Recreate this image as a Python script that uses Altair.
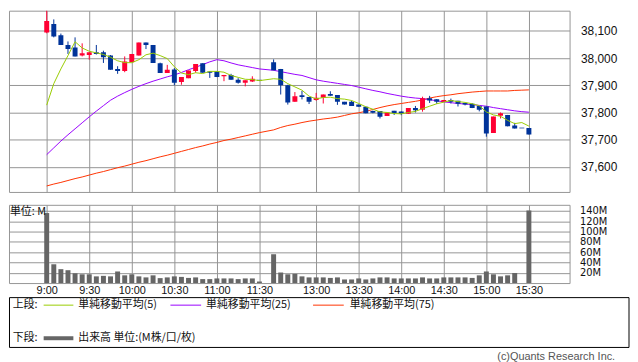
import altair as alt
import pandas as pd

# ---- data (slot index = 5-minute bar; slot 31 is the lunch gap) ----
opens = [38094, 38125, 38084, 38048, 38039, 38009, 38011, 38021, 38021, 38009,
         37960, 37952, 37985, 38009, 38057, 38048, 37981, 37945, 37958, 37912,
         37926, 37952, 37981, 37951, 37951, 37933, 37938, 37920, 37909, 37914,
         37918, None, 37985, 37960, 37900, 37839, 37863, 37857, 37846, 37854,
         37868, 37864, 37839, 37839, 37829, 37821, 37805, 37805, 37787, 37806,
         37804, 37795, 37816, 37810, 37852, 37849, 37839, 37846, 37843, 37835,
         37832, 37824, 37822, 37725, 37788, 37791, 37752, 37743, 37743]
highs = [38181, 38142, 38090, 38061, 38076, 38054, 38021, 38048, 38027, 38011,
         37970, 38006, 38015, 38057, 38057, 38048, 37983, 37975, 37963, 37930,
         37954, 37978, 37981, 37951, 37951, 37938, 37942, 37926, 37918, 37933,
         37918, None, 37995, 37960, 37902, 37875, 37879, 37857, 37872, 37866,
         37878, 37864, 37839, 37844, 37829, 37821, 37807, 37805, 37800, 37806,
         37804, 37816, 37824, 37858, 37861, 37849, 37846, 37851, 37843, 37835,
         37834, 37824, 37822, 37785, 37800, 37791, 37762, 37743, 37743]
lows = [38091, 38076, 38048, 38015, 38006, 38006, 37994, 38013, 37982, 37957,
        37942, 37948, 37985, 38009, 38033, 37982, 37945, 37945, 37900, 37902,
        37926, 37946, 37946, 37927, 37930, 37915, 37920, 37906, 37896, 37912,
        37918, None, 37955, 37866, 37829, 37839, 37848, 37831, 37843, 37833,
        37861, 37828, 37829, 37824, 37821, 37797, 37797, 37778, 37787, 37791,
        37790, 37795, 37800, 37803, 37835, 37832, 37839, 37833, 37822, 37826,
        37816, 37804, 37711, 37725, 37778, 37749, 37741, 37743, 37719]
closes = [38136, 38079, 38048, 38033, 38006, 38018, 38021, 38015, 38003, 37957,
          37952, 37987, 38015, 38057, 38048, 37982, 37945, 37957, 37909, 37930,
          37954, 37978, 37946, 37946, 37930, 37938, 37920, 37909, 37918, 37924,
          37918, None, 37955, 37900, 37837, 37860, 37857, 37839, 37854, 37866,
          37861, 37839, 37829, 37824, 37821, 37797, 37799, 37784, 37800, 37798,
          37795, 37816, 37808, 37852, 37844, 37839, 37846, 37839, 37832, 37829,
          37816, 37810, 37723, 37785, 37797, 37749, 37741, 37743, 37719]
volumes = [136, 36.5, 27, 25, 19, 17, 17, 13, 14, 13,
           22.5, 15, 17, 13, 11, 15, 9.6, 11, 13, 12,
           10, 11, 7.7, 7.7, 9, 9, 9, 7.7, 9, 9,
           3, None, 56, 20.5, 17, 18, 13, 11, 11, 11,
           10, 11, 7, 7, 9, 7, 9, 11, 11, 9,
           9, 9, 9, 11, 9, 9, 11, 11, 11, 11,
           10, 15, 22.5, 17, 13, 15, 19.5, 0, 141]
ma5 = [37827, 37906, 37960, 38009, 38060, 38037, 38025, 38019, 38013, 38003,
       37990, 37983, 37983, 37994, 38012, 38018, 38009, 37998, 37968, 37945,
       37939, 37946, 37943, 37951, 37951, 37948, 37936, 37929, 37922, 37921,
       37917, None, 37924, 37922, 37906, 37894, 37882, 37860, 37850, 37855,
       37856, 37851, 37849, 37844, 37833, 37821, 37812, 37802, 37800, 37796,
       37795, 37800, 37804, 37814, 37823, 37832, 37838, 37844, 37840, 37837,
       37832, 37825, 37802, 37791, 37786, 37771, 37759, 37763, 37750]
ma25 = [37645, 37670, 37695, 37718, 37740, 37762, 37784, 37805, 37825, 37845,
        37860, 37873, 37885, 37896, 37906, 37915, 37923, 37931, 37938, 37947,
        37957, 37966, 37976, 37986, 37994, 37990, 37982, 37975, 37970, 37965,
        37960, None, 37955, 37950, 37945, 37940, 37936, 37928, 37920, 37915,
        37911, 37907, 37903, 37899, 37893, 37887, 37881, 37876, 37870, 37865,
        37860, 37856, 37853, 37851, 37847, 37843, 37839, 37836, 37833, 37831,
        37829, 37826, 37823, 37818, 37814, 37810, 37806, 37803, 37801]
ma75 = [37530, 37537, 37543, 37550, 37557, 37563, 37570, 37577, 37583, 37590,
        37597, 37603, 37610, 37617, 37623, 37630, 37637, 37643, 37650, 37657,
        37664, 37671, 37677, 37684, 37690, 37697, 37702, 37708, 37714, 37720,
        37726, None, 37736, 37745, 37752, 37757, 37763, 37768, 37772, 37776,
        37779, 37783, 37789, 37795, 37799, 37804, 37811, 37818, 37824, 37829,
        37833, 37837, 37841, 37846, 37853, 37858, 37862, 37865, 37869, 37872,
        37875, 37877, 37879, 37879, 37879, 37879, 37881, 37882, 37883]

tick_slots = [0, 6, 12, 18, 24, 30, 38, 44, 50, 56, 62, 68]
tick_labels = ["9:00", "9:30", "10:00", "10:30", "11:00", "11:30",
               "13:00", "13:30", "14:00", "14:30", "15:00", "15:30"]
price_ticks = [37600, 37700, 37800, 37900, 38000, 38100]
volume_ticks = [20, 40, 60, 80, 100, 120, 140]

legend_top = ["上段:", "単純移動平均(5)", "単純移動平均(25)", "単純移動平均(75)"]
legend_bottom = ["下段:", "出来高 単位:(M株/口/枚)"]
unit_label = "単位: M"
credit = "(c)Quants Research Inc."

# ---- styles ----
RED = "#ff0033"
BLUE = "#003399"
GRID = "#959595"
C5, C25, C75 = "#99cc00", "#9900ff", "#ff3300"
VOL = "#666666"
FONT = "Liberation Sans"
JFONT = "Noto Sans CJK JP"

rows = []
for i in range(len(opens)):
    if opens[i] is None:
        continue
    d = "up" if closes[i] > opens[i] else ("down" if closes[i] < opens[i] else "flat")
    rows.append(dict(slot=i, open=opens[i], high=highs[i], low=lows[i],
                     close=closes[i], dir=d, vol=volumes[i],
                     ma5=ma5[i], ma25=ma25[i], ma75=ma75[i]))
df = pd.DataFrame(rows)

xscale = alt.Scale(domain=[-4.62, 73.04], nice=False, zero=False)
yscale = alt.Scale(domain=[37508, 38174], nice=False, zero=False)
vscale = alt.Scale(domain=[0, 152], nice=False, zero=False)

x_price_axis = alt.Axis(values=tick_slots, labels=False, ticks=False, domain=False,
                        grid=True, gridColor=GRID, gridOpacity=1, title=None)
y_price_axis = alt.Axis(orient="right", values=price_ticks, format=",d", ticks=False,
                        domain=False, grid=True, gridColor=GRID, gridOpacity=1,
                        labelPadding=11, labelFontSize=12, labelColor="#111",
                        labelFont=FONT, labelOverlap=False, title=None)
label_expr = "[" + ",".join("'%s'" % t for t in tick_labels) + "][indexof([" + \
    ",".join(str(s) for s in tick_slots) + "], datum.value)]"
x_vol_axis = alt.Axis(values=tick_slots, labelExpr=label_expr, ticks=False, domain=False,
                      grid=True, gridColor=GRID, gridOpacity=1, labelPadding=2,
                      labelFontSize=11, labelColor="#111", labelFont=FONT,
                      labelOverlap=False, title=None)
y_vol_axis = alt.Axis(orient="right", values=volume_ticks, labelExpr="datum.value + 'M'",
                      ticks=False, domain=False, grid=True, gridColor=GRID, gridOpacity=1,
                      labelPadding=10, labelFontSize=10, labelColor="#111",
                      labelFont="DejaVu Sans", labelOverlap=False, labelBound=False,
                      title=None)

X = alt.X("slot:Q", scale=xscale, axis=x_price_axis)
cscale = alt.Scale(domain=["up", "down", "flat"], range=[RED, BLUE, BLUE])
base = alt.Chart(df)

wicks = base.mark_rule(strokeWidth=1, clip=True).encode(
    x=X, y=alt.Y("low:Q", scale=yscale, axis=y_price_axis), y2="high:Q",
    color=alt.Color("dir:N", scale=cscale, legend=None))
bodies = base.mark_bar(size=5, clip=True).encode(
    x=X, y=alt.Y("open:Q", scale=yscale, axis=y_price_axis), y2="close:Q",
    color=alt.Color("dir:N", scale=cscale, legend=None))
dojis = base.transform_filter("datum.open == datum.close").mark_tick(
    orient="horizontal", size=5, thickness=1.2, clip=True).encode(
    x=X, y=alt.Y("close:Q", scale=yscale, axis=y_price_axis),
    color=alt.Color("dir:N", scale=cscale, legend=None))

def ma_line(field, col):
    return base.mark_line(strokeWidth=1, clip=True, color=col).encode(
        x=X, y=alt.Y(f"{field}:Q", scale=yscale, axis=y_price_axis))

price = alt.layer(ma_line("ma75", C75), ma_line("ma25", C25), wicks, bodies, dojis,
                  ma_line("ma5", C5)).properties(width=566, height=183)

XV = alt.X("slot:Q", scale=xscale, axis=x_vol_axis)
vol_bars = base.transform_filter("datum.vol > 0").mark_bar(size=5, color=VOL).encode(
    x=XV, y=alt.Y("vol:Q", scale=vscale, axis=y_vol_axis))

one = pd.DataFrame({"k": [0]})

def txt(s, x, y, size=11, align="left", color="#111", font=JFONT):
    return alt.Chart(pd.DataFrame({"t": [s]})).mark_text(
        align=align, baseline="middle", fontSize=size, font=font, color=color).encode(
        x=alt.value(x), y=alt.value(y), text="t:N")

def seg(x1, x2, y, col, w=1):
    return alt.Chart(one).mark_rule(color=col, strokeWidth=w).encode(
        x=alt.value(x1), x2=alt.value(x2), y=alt.value(y))

box = alt.Chart(one).mark_rect(fillOpacity=0, stroke="#000", strokeWidth=1).encode(
    x=alt.value(0.5), x2=alt.value(626), y=alt.value(93.7), y2=alt.value(144))

layers = [vol_bars,
          txt(unit_label, 1, 7, size=11),
          box,
          txt(legend_top[0], 3.7, 101.3),
          seg(35, 65, 101.3, C5),
          txt(legend_top[1], 70, 101.3),
          seg(163, 194, 101.3, C25),
          txt(legend_top[2], 199, 101.3),
          seg(307, 338, 101.3, C75),
          txt(legend_top[3], 344, 101.3),
          txt(legend_bottom[0], 3.7, 134.7),
          seg(35, 65, 134.7, VOL, 4),
          txt(legend_bottom[1], 70, 134.7),
          txt(credit, 612, 153.5, size=11, align="right", color="#555", font=FONT)]
volume = alt.layer(*layers).properties(width=566, height=79)

chart = alt.vconcat(price, volume, spacing=11).properties(padding=0).configure_view(
    stroke=GRID, strokeWidth=1)

chart.save("out.html", embed_options={"renderer": "svg", "actions": False})
